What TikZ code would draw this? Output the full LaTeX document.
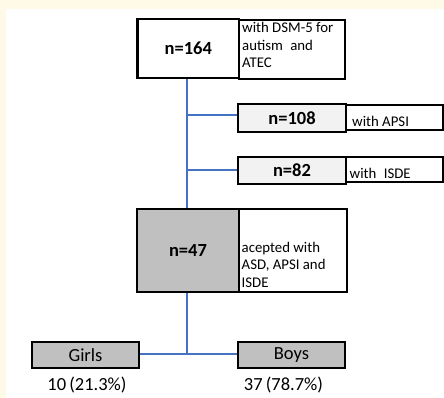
\documentclass[tikz,border=0pt]{standalone}
\usepackage{fontspec}
\setmainfont{Carlito}
\usetikzlibrary{backgrounds}
\definecolor{linkblue}{HTML}{4472C4}
\definecolor{cream}{HTML}{FFFAE8}
\definecolor{lightfill}{HTML}{F2F2F2}
\definecolor{midfill}{HTML}{C0C0C0}
\begin{document}
\begin{tikzpicture}[x=1pt,y=-1pt,
  nbox/.style={draw=black, line width=2.2pt, inner sep=0pt, font=\bfseries\fontsize{18.5}{20}\selectfont},
  tbox/.style={draw=black, line width=1.1pt, inner sep=0pt, fill=white},
  gbox/.style={draw=black, line width=2.2pt, inner sep=0pt, fill=midfill, font=\fontsize{18.5}{20}\selectfont},
  lbl/.style={inner sep=0pt, align=left, font=\fontsize{14.8}{17.5}\selectfont},
  pct/.style={inner sep=0pt, font=\fontsize{18.5}{20}\selectfont},
  link/.style={draw=linkblue, line width=2.6pt}]
\useasboundingbox (0,0) rectangle (444,398);

\coordinate (top) at (187,78);
\coordinate (j108) at (187,115);
\coordinate (j82) at (187,170);
\coordinate (low) at (187,292);
\coordinate (jb) at (187,354);

% top box
\node[tbox, minimum width=106, minimum height=59] (t164) at (292,49.5) {};
\node[nbox, fill=white, minimum width=101.5, minimum height=59] (n164) at (188.25,48.5) {n=164};
\node[lbl, anchor=north west] (l164) at (242,22.5) {with DSM-5 for\\autism\enspace and\\ATEC};

% n=108
\node[tbox, minimum width=97, minimum height=25] (t108) at (394.5,117.5) {};
\node[nbox, fill=lightfill, minimum width=108, minimum height=28] (n108) at (292,118) {n=108};
\node[lbl, anchor=west] (l108) at (352,121) {with APSI};

% n=82
\node[tbox, minimum width=97, minimum height=25] (t82) at (394.5,169.5) {};
\node[nbox, fill=lightfill, minimum width=108, minimum height=27] (n82) at (292,170.5) {n=82};
\node[lbl, anchor=west] (l82) at (349.5,173) {with\enspace ISDE};

% n=47
\node[tbox, minimum width=108, minimum height=83] (t47) at (293,250.5) {};
\node[nbox, fill=midfill, minimum width=102, minimum height=83] (n47) at (188,250.5) {n=47};
\node[lbl, anchor=north west] (l47) at (241.5,242) {acepted with\\ASD, APSI and\\ISDE};

% girls / boys
\node[gbox, minimum width=107, minimum height=26] (girls) at (85.5,355) {Girls};
\node[gbox, minimum width=107, minimum height=26] (boys) at (291.5,355) {Boys};
\node[pct] (pg) at (87,385) {10\,(21.3\%)};
\node[pct] (pb) at (283.5,385) {37\,(78.7\%)};

\begin{scope}[on background layer]
\fill[white] (0,0) rectangle (444,398);
\fill[cream] (0,0) rectangle (444,9);
\fill[cream] (0,0) rectangle (6,398);
\draw[link] (n164.south -| top) -- (n47.north -| top);
\draw[link] (j108) -- (n108.west |- j108);
\draw[link] (j82) -- (n82.west |- j82);
\draw[link] (n47.south -| low) -- (jb);
\draw[link] (girls.east |- jb) -- (boys.west |- jb);
\end{scope}
\end{tikzpicture}
\end{document}
